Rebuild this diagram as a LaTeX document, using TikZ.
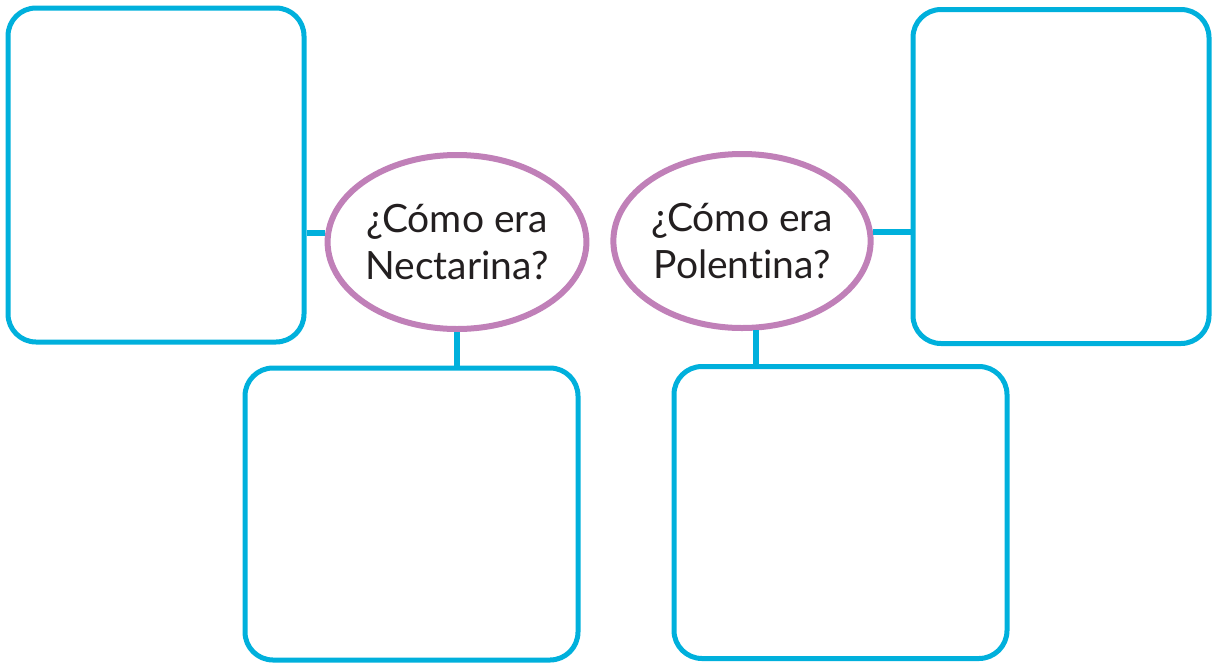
\documentclass[tikz,border=0pt]{standalone}
\usepackage{fontspec}
\setmainfont{Lato}[Ligatures={NoCommon}]
\usepackage{tikz}
\usetikzlibrary{calc}
\usetikzlibrary{shapes.geometric}
\definecolor{boxblue}{RGB}{0,176,220}
\definecolor{ovalpurple}{RGB}{192,128,184}
\definecolor{inkgray}{RGB}{35,31,32}

\begin{document}
\begin{tikzpicture}[x=1pt,y=-1pt,line cap=round,line join=round,
    answerbox/.style={draw=boxblue,line width=5pt,rounded corners=28pt,
      minimum width=296pt,minimum height=334pt,inner sep=0pt},
    lowbox/.style={answerbox,minimum width=333pt,minimum height=292pt},
    question/.style={ellipse,draw=ovalpurple,line width=6pt,fill=white,
      minimum width=256pt,minimum height=174pt,inner sep=0pt,align=center,
      text=inkgray,font=\fontsize{39}{47}\selectfont},
    link/.style={draw=boxblue,line width=6pt,line cap=butt}]
  \useasboundingbox (0,0) rectangle (1216,662);

  % answer boxes
  \node[answerbox] (boxNW) at (156,175) {};
  \node[answerbox] (boxNE) at (1061,176.5) {};
  \node[lowbox]    (boxSW) at (411.5,514) {};
  \node[lowbox]    (boxSE) at (840.5,512.5) {};

  % questions
  \node[question] (necta) at (457,242) {¿Cómo era\\Nectarina?};
  \node[question] (polen) at (742,241) {¿Cómo era\\Polentina?};

  % connectors
  \draw[link] (necta.176) -- (necta.176 -| boxNW.east);
  \draw[link] (necta.south) -- (necta.south |- boxSW.north);
  \draw[link] (polen.4) -- (polen.4 -| boxNE.west);
  \draw[link] ($(polen.south)+(14,-1)$) coordinate (polenfoot)
    -- (polenfoot |- boxSE.north);
\end{tikzpicture}
\end{document}
